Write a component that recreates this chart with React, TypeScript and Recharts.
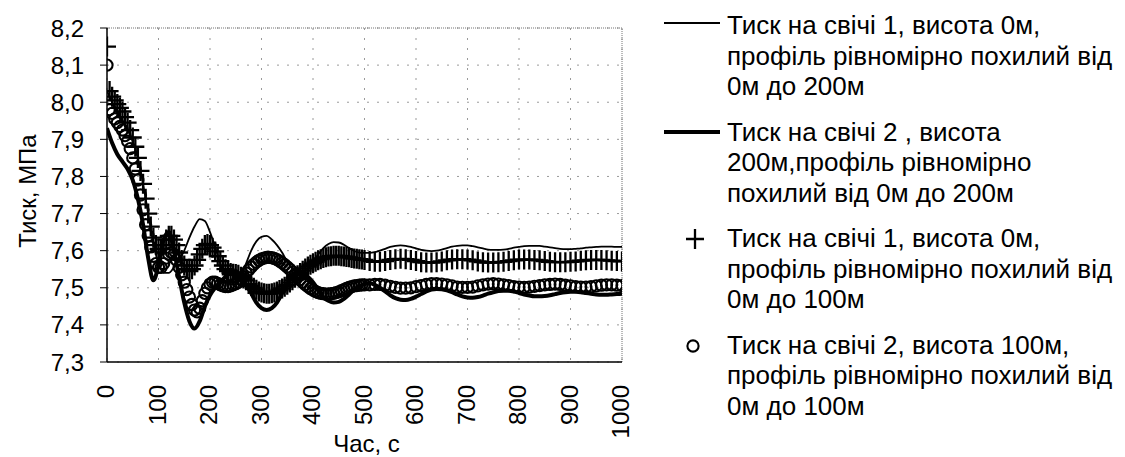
import { CartesianGrid, ComposedChart, Line, ReferenceLine, Scatter, XAxis, YAxis } from "recharts";

const FONT = '"Liberation Sans", Arial, sans-serif';

// time, s (lines every 10 s)
const tLine = [
  0, 10, 20, 30, 40, 50, 60, 70, 80, 90,
  100, 110, 120, 130, 140, 150, 160, 170, 180, 190,
  200, 210, 220, 230, 240, 250, 260, 270, 280, 290,
  300, 310, 320, 330, 340, 350, 360, 370, 380, 390,
  400, 410, 420, 430, 440, 450, 460, 470, 480, 490,
  500, 510, 520, 530, 540, 550, 560, 570, 580, 590,
  600, 610, 620, 630, 640, 650, 660, 670, 680, 690,
  700, 710, 720, 730, 740, 750, 760, 770, 780, 790,
  800, 810, 820, 830, 840, 850, 860, 870, 880, 890,
  900, 910, 920, 930, 940, 950, 960, 970, 980, 990,
  1000,
];

// time, s (marker series: 5 s up to 500, then 10 s)
const tMark = [
  0, 5, 10, 15, 20, 25, 30, 35, 40, 45,
  50, 55, 60, 65, 70, 75, 80, 85, 90, 95,
  100, 105, 110, 115, 120, 125, 130, 135, 140, 145,
  150, 155, 160, 165, 170, 175, 180, 185, 190, 195,
  200, 205, 210, 215, 220, 225, 230, 235, 240, 245,
  250, 255, 260, 265, 270, 275, 280, 285, 290, 295,
  300, 305, 310, 315, 320, 325, 330, 335, 340, 345,
  350, 355, 360, 365, 370, 375, 380, 385, 390, 395,
  400, 405, 410, 415, 420, 425, 430, 435, 440, 445,
  450, 455, 460, 465, 470, 475, 480, 485, 490, 495,
  500,
  510, 520, 530, 540, 550, 560, 570, 580, 590, 600,
  610, 620, 630, 640, 650, 660, 670, 680, 690, 700,
  710, 720, 730, 740, 750, 760, 770, 780, 790, 800,
  810, 820, 830, 840, 850, 860, 870, 880, 890, 900,
  910, 920, 930, 940, 950, 960, 970, 980, 990, 1000,
];

// свіча 1, 0-200 м (thin line)
const well1p200 = [
  8.03, 8.0, 7.975, 7.95, 7.925, 7.895, 7.85, 7.78, 7.7, 7.62,
  7.565, 7.54, 7.54, 7.555, 7.575, 7.6, 7.635, 7.665, 7.685, 7.68,
  7.65, 7.61, 7.565, 7.53, 7.51, 7.51, 7.53, 7.565, 7.6, 7.625,
  7.637, 7.64, 7.63, 7.615, 7.595, 7.57, 7.55, 7.54, 7.54, 7.55,
  7.57, 7.59, 7.607, 7.618, 7.623, 7.622, 7.616, 7.607, 7.599, 7.595,
  7.594, 7.594, 7.596, 7.6, 7.605, 7.61, 7.613, 7.614, 7.613, 7.61,
  7.606, 7.602, 7.6, 7.599, 7.6, 7.603, 7.607, 7.611, 7.613, 7.614,
  7.614, 7.612, 7.609, 7.606, 7.603, 7.602, 7.602, 7.603, 7.605, 7.608,
  7.61, 7.612, 7.613, 7.613, 7.613, 7.611, 7.609, 7.607, 7.605, 7.604,
  7.604, 7.605, 7.606, 7.608, 7.609, 7.61, 7.611, 7.611, 7.611, 7.61,
  7.61,
];

// свіча 2, 0-200 м (thick line)
const well2p200 = [
  7.93, 7.89, 7.86, 7.84, 7.82, 7.79, 7.74, 7.67, 7.58, 7.52,
  7.56, 7.63, 7.65, 7.6, 7.53, 7.46, 7.41, 7.39, 7.41, 7.45,
  7.48, 7.5, 7.515, 7.53, 7.54, 7.545, 7.53, 7.51, 7.485, 7.46,
  7.445, 7.44, 7.445, 7.46, 7.485, 7.51, 7.53, 7.54, 7.54, 7.53,
  7.515, 7.495, 7.475, 7.465, 7.46, 7.462, 7.47, 7.482, 7.495, 7.505,
  7.51, 7.512, 7.508, 7.5, 7.49, 7.48, 7.472, 7.468, 7.467, 7.47,
  7.476, 7.483, 7.49, 7.495, 7.497, 7.496, 7.493, 7.488, 7.482, 7.477,
  7.474, 7.473, 7.475, 7.479, 7.484, 7.488, 7.491, 7.492, 7.492, 7.49,
  7.486, 7.482, 7.479, 7.477, 7.477, 7.478, 7.48, 7.483, 7.486, 7.488,
  7.489, 7.489, 7.488, 7.486, 7.484, 7.482, 7.481, 7.481, 7.482, 7.483,
  7.484,
];

// свіча 1, 0-100 м (+)
const well1p100 = [
  8.15, 8.03, 8.015, 8.005, 7.995, 7.985, 7.975, 7.96, 7.945, 7.925,
  7.905, 7.88, 7.85, 7.815, 7.78, 7.74, 7.7, 7.665, 7.635, 7.615,
  7.605, 7.605, 7.615, 7.63, 7.64, 7.64, 7.63, 7.615, 7.595, 7.575,
  7.56, 7.55, 7.545, 7.55, 7.56, 7.575, 7.59, 7.605, 7.615, 7.618,
  7.615, 7.608, 7.598, 7.585, 7.572, 7.56, 7.55, 7.545, 7.54, 7.538,
  7.537, 7.535, 7.53, 7.525, 7.52, 7.51, 7.505, 7.5, 7.495, 7.49,
  7.487, 7.485, 7.484, 7.484, 7.485, 7.487, 7.49, 7.494, 7.498, 7.503,
  7.508, 7.514, 7.52, 7.527, 7.534, 7.54, 7.546, 7.552, 7.557, 7.562,
  7.566, 7.57, 7.574, 7.577, 7.58, 7.582, 7.584, 7.585, 7.586, 7.586,
  7.586, 7.585, 7.584, 7.583, 7.582, 7.58, 7.579, 7.578, 7.577, 7.576,
  7.575,
  7.572, 7.57, 7.57, 7.572, 7.575, 7.577, 7.578, 7.577, 7.575, 7.572,
  7.569, 7.568, 7.568, 7.569, 7.571, 7.574, 7.576, 7.577, 7.577, 7.576,
  7.574, 7.571, 7.569, 7.568, 7.568, 7.569, 7.57, 7.572, 7.574, 7.576,
  7.576, 7.576, 7.575, 7.574, 7.572, 7.57, 7.569, 7.569, 7.569, 7.57,
  7.571, 7.573, 7.574, 7.575, 7.575, 7.575, 7.574, 7.573, 7.572, 7.571,
];

// свіча 2, 0-100 м (o)
const well2p100 = [
  8.1, 7.98, 7.97, 7.955, 7.945, 7.935, 7.925, 7.91, 7.895, 7.875,
  7.85, 7.82, 7.79, 7.75, 7.71, 7.67, 7.64, 7.61, 7.585, 7.565,
  7.555, 7.555, 7.565, 7.58, 7.59, 7.595, 7.59, 7.575, 7.555, 7.535,
  7.515, 7.495, 7.475, 7.455, 7.44, 7.435, 7.445, 7.465, 7.485, 7.5,
  7.51, 7.515, 7.515, 7.512, 7.508, 7.505, 7.503, 7.503, 7.505, 7.508,
  7.511, 7.515, 7.522, 7.53, 7.54, 7.548, 7.556, 7.563, 7.569, 7.574,
  7.578, 7.58, 7.582, 7.582, 7.581, 7.579, 7.576, 7.572, 7.567, 7.562,
  7.556, 7.55, 7.543, 7.536, 7.529, 7.522, 7.515, 7.509, 7.503, 7.498,
  7.494, 7.49, 7.487, 7.485, 7.484, 7.483, 7.483, 7.484, 7.485, 7.487,
  7.489, 7.492, 7.495, 7.498, 7.501, 7.503, 7.505, 7.506, 7.507, 7.508,
  7.508,
  7.508, 7.509, 7.509, 7.507, 7.504, 7.501, 7.499, 7.499, 7.5, 7.503,
  7.506, 7.509, 7.511, 7.511, 7.51, 7.508, 7.505, 7.502, 7.501, 7.501,
  7.502, 7.505, 7.508, 7.51, 7.511, 7.51, 7.508, 7.506, 7.503, 7.502,
  7.501, 7.502, 7.504, 7.506, 7.508, 7.509, 7.51, 7.509, 7.507, 7.505,
  7.503, 7.502, 7.502, 7.503, 7.505, 7.507, 7.508, 7.508, 7.507, 7.506,
];

const xTicks = [0, 100, 200, 300, 400, 500, 600, 700, 800, 900, 1000];
const yTicks = [7.3, 7.4, 7.5, 7.6, 7.7, 7.8, 7.9, 8.0, 8.1, 8.2];

const seriesNames = [
  "Тиск на свічі 1, висота 0м,\nпрофіль рівномірно похилий від\n0м до 200м",
  "Тиск на свічі 2 , висота\n200м,профіль рівномірно\nпохилий від 0м до 200м",
  "Тиск на свічі 1, висота 0м,\nпрофіль рівномірно похилий від\n0м до 100м",
  "Тиск на свічі 2, висота 100м,\nпрофіль рівномірно похилий від\n0м до 100м",
];

const s1Data = tLine.map((t, i) => ({ t, v: well1p200[i] }));
const s2Data = tLine.map((t, i) => ({ t, v: well2p200[i] }));
const s3Data = tMark.map((t, i) => ({ t, v: well1p100[i] }));
const s4Data = tMark.map((t, i) => ({ t, v: well2p100[i] }));

function PlusMark(props: any) {
  const { cx, cy } = props;
  if (cx == null || cy == null) return null;
  return (
    <path
      d={`M${cx - 9},${cy}H${cx + 9}M${cx},${cy - 10}V${cy + 10}`}
      stroke="#000"
      strokeWidth={2.3}
      fill="none"
    />
  );
}

function RingMark(props: any) {
  const { cx, cy } = props;
  if (cx == null || cy == null) return null;
  return <circle cx={cx} cy={cy} r={5.6} stroke="#000" strokeWidth={2.1} fill="none" />;
}

function XTick(props: any) {
  const { x, y, payload } = props;
  return (
    <text
      x={x - 1}
      y={y}
      transform={`rotate(-90 ${x - 1} ${y})`}
      textAnchor="end"
      dy="0.35em"
      fontSize={24}
      fontFamily={FONT}
      fill="#000"
    >
      {payload.value}
    </text>
  );
}

function YTitle(props: any) {
  const vb = props.viewBox || { x: 0, y: 28, width: 107, height: 334 };
  const cx = vb.x + 28;
  const cy = vb.y + vb.height / 2 - 4;
  return (
    <text
      x={cx}
      y={cy}
      transform={`rotate(-90 ${cx} ${cy})`}
      textAnchor="middle"
      dy="0.35em"
      fontSize={24}
      fontFamily={FONT}
      fill="#000"
    >
      Тиск, МПа
    </text>
  );
}

function XTitle(props: any) {
  const vb = props.viewBox || { x: 107, y: 362, width: 515, height: 95 };
  return (
    <text
      x={vb.x + vb.width / 2 + 2}
      y={vb.y + 90}
      textAnchor="middle"
      fontSize={24}
      fontFamily={FONT}
      fill="#000"
    >
      Час, с
    </text>
  );
}

function LegendIcon({ index }: { index: number }) {
  if (index === 0) return <line x1={2} x2={58} y1={13} y2={13} stroke="#000" strokeWidth={1.8} />;
  if (index === 1) return <line x1={2} x2={58} y1={15} y2={15} stroke="#000" strokeWidth={4} />;
  if (index === 2) return <PlusMark cx={33} cy={16} />;
  return <RingMark cx={31} cy={16} />;
}

export default function App() {
  return (
    <div style={{ position: "absolute", left: 0, top: 0, width: 1125, height: 457, background: "#fff" }}>
      <ComposedChart width={1125} height={457} margin={{ top: 28, right: 503, bottom: 0, left: 0 }}>
        <CartesianGrid stroke="#9a9a9a" strokeDasharray="2 8" />
        <XAxis
          dataKey="t"
          type="number"
          domain={[0, 1000]}
          ticks={xTicks}
          interval={0}
          height={95}
          tickSize={0}
          tickMargin={23}
          tick={<XTick />}
          axisLine={{ stroke: "#000", strokeWidth: 1.5 }}
          label={<XTitle />}
          allowDataOverflow
        />
        <YAxis
          type="number"
          domain={[7.3, 8.2]}
          ticks={yTicks}
          interval={0}
          width={107}
          tickSize={7}
          tickMargin={16}
          tick={{ fontSize: 24, fill: "#000", fontFamily: FONT }}
          tickLine={{ stroke: "#000" }}
          tickFormatter={(v: number) => v.toFixed(1).replace(".", ",")}
          axisLine={{ stroke: "#000", strokeWidth: 1.5 }}
          label={<YTitle />}
          allowDataOverflow
        />
        <ReferenceLine y={8.2} stroke="#777" strokeDasharray="1 1" />
        <ReferenceLine x={1000} stroke="#777" strokeDasharray="1 1" />
        <Line
          data={s1Data}
          dataKey="v"
          name={seriesNames[0]}
          type="monotone"
          stroke="#000"
          strokeWidth={1.8}
          dot={false}
          activeDot={false}
          isAnimationActive={false}
        />
        <Line
          data={s2Data}
          dataKey="v"
          name={seriesNames[1]}
          type="monotone"
          stroke="#000"
          strokeWidth={4}
          dot={false}
          activeDot={false}
          isAnimationActive={false}
        />
        <Scatter data={s3Data} dataKey="v" name={seriesNames[2]} shape={<PlusMark />} isAnimationActive={false} />
        <Scatter data={s4Data} dataKey="v" name={seriesNames[3]} shape={<RingMark />} isAnimationActive={false} />
      </ComposedChart>
      <div
        style={{
          position: "absolute",
          left: 662,
          top: 10,
          width: 460,
          fontFamily: FONT,
          fontSize: 26,
          lineHeight: "30.5px",
          color: "#000",
        }}
      >
        {seriesNames.map((name, i) => (
          <div key={i} style={{ display: "flex", marginBottom: 15 }}>
            <svg width={65} height={31} style={{ flex: "none" }}>
              <LegendIcon index={i} />
            </svg>
            <div style={{ whiteSpace: "pre-line" }}>{name}</div>
          </div>
        ))}
      </div>
    </div>
  );
}
